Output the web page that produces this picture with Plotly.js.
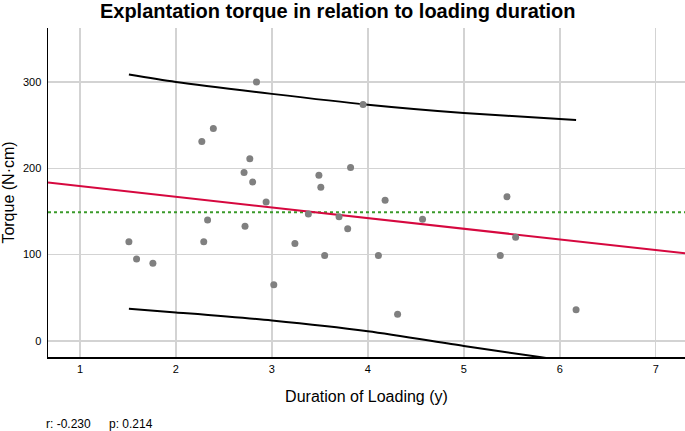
<!DOCTYPE html>
<html>
<head>
<meta charset="utf-8">
<script src="https://cdn.plot.ly/plotly-3.0.1.min.js"></script>
<style>html,body{margin:0;padding:0;background:#fff;}#chart{width:685px;height:431px;}</style>
</head>
<body>
<div id="chart"></div>
<script>
// Scatter data: duration of loading (years) vs explantation torque (N·cm)
const durationYears = [1.51, 1.59, 1.76, 2.27, 2.29, 2.33, 2.39, 2.71, 2.72, 2.77, 2.80, 2.84, 2.94, 3.02, 3.24, 3.38,
  3.49, 3.51, 3.55, 3.70, 3.79, 3.82, 3.95, 4.11, 4.18, 4.31, 4.57, 5.38, 5.45, 5.54, 6.17];
const torqueNcm = [115, 95, 90, 231, 115, 140, 246, 195, 133, 211, 184, 300, 161, 65, 113, 147,
  192, 178, 99, 144, 130, 201, 274, 99, 163, 31, 141, 99, 167, 120, 36];

// Regression line
const fitX = [0.667, 7.305];
const fitY = [183.5, 101.5];

// Mean torque line
const meanX = [0.667, 7.305];
const meanY = [149, 149];

// Prediction interval curves
const upperX = [1.51, 2.0, 3.0, 4.0, 5.0, 6.0, 6.17];
const upperY = [308.6, 300.0, 286.2, 273.7, 264.1, 257.1, 256.0];
const lowerX = [1.51, 2.0, 3.0, 4.0, 5.0, 5.79, 6.17];
const lowerY = [37.2, 33.0, 23.7, 11.3, -5.8, -18.6, -25];

const xTicks = [1, 2, 3, 4, 5, 6, 7];
const yTicks = [0, 100, 200, 300];

const titleText = 'Explantation torque in relation to loading duration';
const xTitle = 'Duration of Loading (y)';
const yTitle = 'Torque (N·cm)';
const statR = 'r: -0.230';
const statP = 'p: 0.214';

const traces = [
  {x: meanX, y: meanY, mode: 'lines', line: {color: '#3a9a2a', width: 2, dash: 'dot'}, hoverinfo: 'skip'},
  {x: fitX, y: fitY, mode: 'lines', line: {color: '#d6083f', width: 2}, hoverinfo: 'skip'},
  {x: upperX, y: upperY, mode: 'lines', line: {color: '#000000', width: 2, shape: 'spline', smoothing: 0.8}, hoverinfo: 'skip'},
  {x: lowerX, y: lowerY, mode: 'lines', line: {color: '#000000', width: 2, shape: 'spline', smoothing: 0.8}, hoverinfo: 'skip'},
  {x: durationYears, y: torqueNcm, mode: 'markers', marker: {color: '#808080', size: 7}}
];

const font = 'Arial, "Liberation Sans", Helvetica, sans-serif';

const layout = {
  width: 685, height: 431,
  margin: {l: 48, r: 0, t: 28, b: 74, pad: 0},
  paper_bgcolor: '#ffffff', plot_bgcolor: '#ffffff',
  showlegend: false,
  font: {family: font, color: '#000000'},
  title: {text: '<b>' + titleText + '</b>', font: {family: font, size: 20, color: '#000'},
    x: 0.493, xanchor: 'center', y: 0.975, yanchor: 'middle', yref: 'container'},
  xaxis: {
    range: [0.667, 7.305], tickvals: xTicks, ticktext: xTicks.map(String),
    showgrid: true, gridcolor: '#d3d3d3', gridwidth: 1.5,
    zeroline: false, showline: true, linecolor: '#000', linewidth: 1.5,
    ticks: '', tickfont: {size: 11, color: '#000000'}, ticklabelstandoff: 1,
    title: {text: xTitle, font: {size: 16, color: '#000'}, standoff: 17}
  },
  yaxis: {
    range: [-18.6, 362.5], tickvals: yTicks, ticktext: yTicks.map(String),
    showgrid: true, gridcolor: '#d3d3d3', gridwidth: 1.5,
    zeroline: false, showline: true, linecolor: '#000', linewidth: 1.5,
    ticks: '', tickfont: {size: 11, color: '#000000'}, ticklabelstandoff: 3,
    title: {text: yTitle, font: {size: 16, color: '#000'}, standoff: 10}
  },
  annotations: [
    {text: statR, xref: 'paper', yref: 'paper', x: -0.0063, y: -0.205, xanchor: 'left', yanchor: 'middle',
      showarrow: false, font: {size: 12, color: '#000'}},
    {text: statP, xref: 'paper', yref: 'paper', x: 0.093, y: -0.205, xanchor: 'left', yanchor: 'middle',
      showarrow: false, font: {size: 12, color: '#000'}}
  ]
};

Plotly.newPlot('chart', traces, layout, {displayModeBar: false, staticPlot: true});
</script>
</body>
</html>
